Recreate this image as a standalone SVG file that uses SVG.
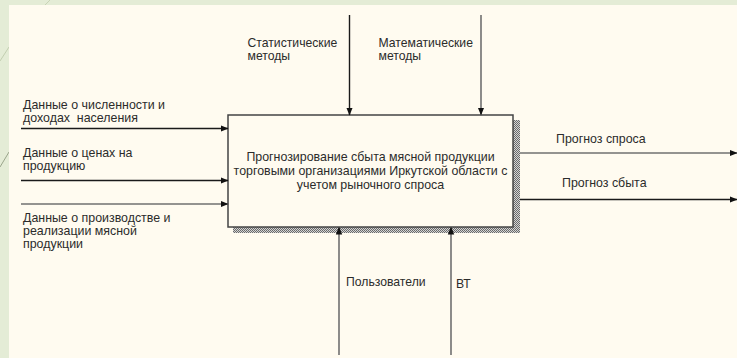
<svg xmlns="http://www.w3.org/2000/svg" width="737" height="358" viewBox="0 0 737 358">
<style>
  text { font-family: "Liberation Sans", Arial, sans-serif; font-size: 12.4px; fill: #2b2b2b; }
  .c { text-anchor: middle; }
  .s { font-size: 12.2px; }
  .blk { stroke: #1a1a1a; stroke-width: 1.4; fill: none; }
  .gry { stroke: #707070; stroke-width: 1.6; fill: none; }
</style>
<defs>
  <marker id="ah" viewBox="0 0 8 8" refX="7.5" refY="4" markerWidth="8" markerHeight="8" markerUnits="userSpaceOnUse" orient="auto">
    <path d="M0,0.8 L8,4 L0,7.2 Z" fill="#111"/>
  </marker>
  <pattern id="hatch" width="2" height="2" patternUnits="userSpaceOnUse">
    <rect width="2" height="2" fill="#d4d4d4"/>
    <rect width="1" height="1" fill="#6a6a6a"/>
    <rect x="1" y="1" width="1" height="1" fill="#6a6a6a"/>
  </pattern>
</defs>
<rect width="737" height="358" fill="#e4ecd6"/>
<line x1="45" y1="5" x2="50" y2="0" stroke="#c9d4b6" stroke-width="1"/>
<line x1="0" y1="61" x2="9" y2="47" stroke="#c3ceb0" stroke-width="1"/>
<line x1="0" y1="167" x2="9" y2="152" stroke="#9aa58a" stroke-width="1"/>
<rect x="9" y="5" width="728" height="353" fill="#fffbf0"/>

<g id="node-main">
  <path d="M513,120 H520 V233 H233 V227 H513 Z" fill="url(#hatch)"/>
  <rect x="228" y="115" width="285" height="112" fill="#fffbf0" stroke="#444" stroke-width="1.5"/>
  <text class="c" x="370.5" y="161">Прогнозирование сбыта мясной продукции</text>
  <text class="c" x="370.5" y="175">торговыми организациями Иркутской области с</text>
  <text class="c" x="370.5" y="189">учетом рыночного спроса</text>
</g>

<g id="connectors">
  <line class="blk" x1="21" y1="128.5" x2="228" y2="128.5" marker-end="url(#ah)"/>
  <line class="blk" x1="21" y1="180.5" x2="228" y2="180.5" marker-end="url(#ah)"/>
  <line class="gry" x1="21" y1="204" x2="228" y2="204" marker-end="url(#ah)"/>
  <line class="blk" x1="349.5" y1="15" x2="349.5" y2="115" marker-end="url(#ah)"/>
  <line class="gry" x1="481" y1="15" x2="481" y2="115" marker-end="url(#ah)"/>
  <line class="gry" x1="339" y1="355" x2="339" y2="227" marker-end="url(#ah)"/>
  <line class="gry" x1="451" y1="355" x2="451" y2="227" marker-end="url(#ah)"/>
  <line class="gry" x1="520" y1="153" x2="737" y2="153" marker-end="url(#ah)"/>
  <line class="blk" x1="520" y1="199.5" x2="737" y2="199.5" marker-end="url(#ah)"/>
</g>

<g id="labels">
  <text x="23" y="109">Данные о численности и</text>
  <text x="23" y="122" style="white-space:pre">доходах  населения</text>
  <text x="23" y="157">Данные о ценах на</text>
  <text x="23" y="170">продукцию</text>
  <text x="23" y="222">Данные о производстве и</text>
  <text x="23" y="235">реализации мясной</text>
  <text x="23" y="248">продукции</text>
  <text class="s" x="247.5" y="46.5">Статистические</text>
  <text class="s" x="247.5" y="59.5">методы</text>
  <text class="s" x="378.5" y="46.5">Математические</text>
  <text class="s" x="378.5" y="59.5">методы</text>
  <text class="s" x="346" y="286">Пользователи</text>
  <text class="s" x="456" y="288">ВТ</text>
  <text x="556" y="142.5">Прогноз спроса</text>
  <text x="562" y="187">Прогноз сбыта</text>
</g>
</svg>
